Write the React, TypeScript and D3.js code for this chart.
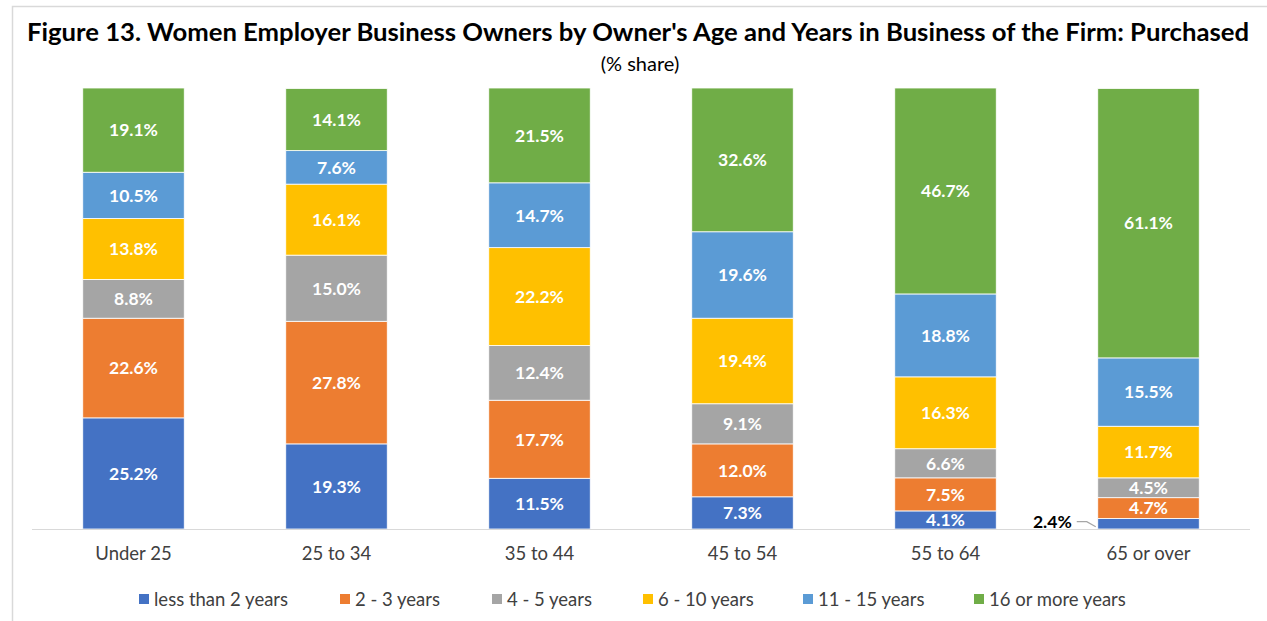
import { useRef, useEffect } from "react"
import * as d3 from "d3"

const ageGroups = ["Under 25", "25 to 34", "35 to 44", "45 to 54", "55 to 64", "65 or over"]
const seriesNames = ["less than 2 years", "2 - 3 years", "4 - 5 years", "6 - 10 years", "11 - 15 years", "16 or more years"]
const seriesColors = ["#4472C4", "#ED7D31", "#A5A5A5", "#FFC000", "#5B9BD5", "#70AD47"]

const lessThan2 = [25.2, 19.3, 11.5, 7.3, 4.1, 2.4]
const twoToThree = [22.6, 27.8, 17.7, 12.0, 7.5, 4.7]
const fourToFive = [8.8, 15.0, 12.4, 9.1, 6.6, 4.5]
const sixToTen = [13.8, 16.1, 22.2, 19.4, 16.3, 11.7]
const elevenToFifteen = [10.5, 7.6, 14.7, 19.6, 18.8, 15.5]
const sixteenPlus = [19.1, 14.1, 21.5, 32.6, 46.7, 61.1]

const seriesValues = [lessThan2, twoToThree, fourToFive, sixToTen, elevenToFifteen, sixteenPlus]

const FONT = "Lato, 'Open Sans', sans-serif"

const App = () => {
  const svgRef = useRef<SVGSVGElement>(null)

  useEffect(() => {
    const width = 1267
    const height = 621
    const svg = d3.select(svgRef.current).attr("width", width).attr("height", height)
    svg.selectAll("*").remove()

    // chart border
    svg
      .append("rect")
      .attr("x", 12.5)
      .attr("y", 6.5)
      .attr("width", 1270)
      .attr("height", 640)
      .attr("fill", "white")
      .attr("stroke", "#d9d9d9")
      .attr("stroke-width", 1.5)

    // title
    svg
      .append("text")
      .attr("x", 638)
      .attr("y", 41)
      .attr("text-anchor", "middle")
      .attr("textLength", 1222)
      .attr("lengthAdjust", "spacingAndGlyphs")
      .style("font-family", FONT)
      .style("font-weight", "bold")
      .style("font-size", "24px")
      .style("fill", "#000")
      .text("Figure 13. Women Employer Business Owners by Owner's Age and Years in Business of the Firm: Purchased")

    svg
      .append("text")
      .attr("x", 640)
      .attr("y", 71)
      .attr("text-anchor", "middle")
      .style("font-family", FONT)
      .style("font-size", "20px")
      .style("fill", "#000")
      .text("(% share)")

    const rows = ageGroups.map((g, i) => {
      const row: any = { group: g }
      seriesNames.forEach((s, j) => (row[s] = seriesValues[j][i]))
      return row
    })
    const stacked = d3.stack().keys(seriesNames)(rows)

    const x = d3.scaleBand().domain(ageGroups).range([32, 1250]).paddingInner(0.5).paddingOuter(0.25)
    const y = d3.scaleLinear().domain([0, 100]).range([529, 88])

    const layers = svg
      .append("g")
      .selectAll("g")
      .data(stacked)
      .enter()
      .append("g")
      .attr("fill", (_d, i) => seriesColors[i])

    layers
      .selectAll("rect")
      .data((d) => d)
      .enter()
      .append("rect")
      .attr("x", (d: any) => x(d.data.group)!)
      .attr("width", x.bandwidth())
      .attr("y", (d) => y(d[1]))
      .attr("height", (d) => y(d[0]) - y(d[1]))
      .attr("stroke", "white")
      .attr("stroke-width", 0.8)

    // white value labels
    layers
      .selectAll("text")
      .data((d) => d.map((p) => ({ p, key: d.key })))
      .enter()
      .filter((d) => d.p[1] - d.p[0] >= 3)
      .append("text")
      .attr("x", (d: any) => x(d.p.data.group)! + x.bandwidth() / 2)
      .attr("y", (d) => (y(d.p[0]) + y(d.p[1])) / 2)
      .attr("dy", "0.36em")
      .attr("text-anchor", "middle")
      .style("font-family", FONT)
      .style("font-weight", "bold")
      .style("font-size", "17.5px")
      .style("fill", "white")
      .text((d) => `${(d.p[1] - d.p[0]).toFixed(1)}%`)

    // small segment label with leader line
    stacked[0]
      .filter((p) => p[1] - p[0] < 3)
      .forEach((p: any) => {
        const bx = x(p.data.group)!
        const cy = (y(p[0]) + y(p[1])) / 2
        svg
          .append("path")
          .attr("d", `M${bx - 21},${cy - 2} L${bx - 11},${cy - 2} L${bx - 2},${cy + 3}`)
          .attr("fill", "none")
          .attr("stroke", "#a6a6a6")
          .attr("stroke-width", 1.2)
        svg
          .append("text")
          .attr("x", bx - 26)
          .attr("y", cy - 2)
          .attr("dy", "0.36em")
          .attr("text-anchor", "end")
          .style("font-family", FONT)
          .style("font-weight", "bold")
          .style("font-size", "17.5px")
          .style("fill", "#000")
          .text(`${(p[1] - p[0]).toFixed(1)}%`)
      })

    // x axis line
    svg
      .append("line")
      .attr("x1", 32)
      .attr("x2", 1250)
      .attr("y1", 529.5)
      .attr("y2", 529.5)
      .attr("stroke", "#d9d9d9")
      .attr("stroke-width", 1.2)

    svg
      .append("g")
      .selectAll("text")
      .data(ageGroups)
      .enter()
      .append("text")
      .attr("x", (d) => x(d)! + x.bandwidth() / 2)
      .attr("y", 560)
      .attr("text-anchor", "middle")
      .style("font-family", FONT)
      .style("font-size", "18.5px")
      .style("fill", "#404040")
      .text((d) => d)

    // legend
    const legendX = [139, 340, 492, 643, 803, 974]
    const legend = svg
      .append("g")
      .selectAll("g")
      .data(seriesNames)
      .enter()
      .append("g")
      .attr("transform", (_d, i) => `translate(${legendX[i]},599)`)
    legend
      .append("rect")
      .attr("x", 0)
      .attr("y", -5)
      .attr("width", 10)
      .attr("height", 10)
      .attr("fill", (_d, i) => seriesColors[i])
    legend
      .append("text")
      .attr("x", 15)
      .attr("y", 0)
      .attr("dy", "0.36em")
      .style("font-family", FONT)
      .style("font-size", "18.5px")
      .style("fill", "#404040")
      .text((d) => d)
  }, [])

  return (
    <div style={{ position: "absolute", left: 0, top: 0 }}>
      <svg ref={svgRef} style={{ display: "block" }}></svg>
    </div>
  )
}

export default App
